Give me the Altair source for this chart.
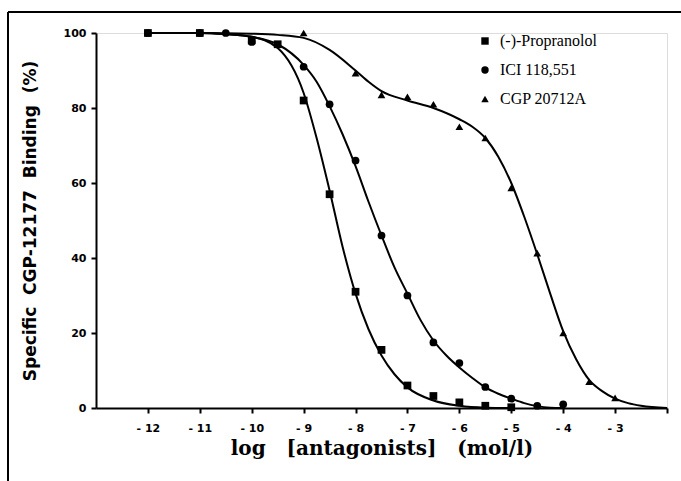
import altair as alt
import pandas as pd

series_names = ["(-)-Propranolol", "ICI 118,551", "CGP 20712A"]

# Measured points
prop_x = [-12, -11, -10, -9.5, -9, -8.5, -8, -7.5, -7, -6.5, -6, -5.5, -5]
prop_y = [100, 100, 98, 97, 82, 57, 31, 15.5, 6, 3.2, 1.5, 0.6, 0.2]

ici_x = [-12, -11, -10.5, -10, -9, -8.5, -8, -7.5, -7, -6.5, -6, -5.5, -5, -4.5, -4]
ici_y = [100, 100, 100, 97.6, 91, 81, 66, 46, 30, 17.5, 12, 5.6, 2.5, 0.6, 1]

cgp_x = [-9, -8, -7.5, -7, -6.5, -6, -5.5, -5, -4.5, -4, -3.5, -3]
cgp_y = [100, 89.3, 83.5, 83, 81, 75, 72, 58.7, 41.3, 20, 7, 2.7]

# Fitted curves
prop_cx = [-12, -11, -10.5, -10, -9.5, -9, -8.75, -8.5, -8.25, -8, -7.75, -7.5, -7.25, -7, -6.5, -6, -5.5, -5]
prop_cy = [100, 100, 99.7, 99, 96, 84, 72, 58, 43, 30.5, 21, 14, 9, 5.5, 2, 0.6, 0.1, 0]

ici_cx = [-12, -11, -10.5, -10, -9.5, -9, -8.75, -8.5, -8.25, -8, -7.75, -7.5, -7.25, -7, -6.75, -6.5, -6.25, -6, -5.75, -5.5, -5.25, -5, -4.75, -4.5, -4.25, -4]
ici_cy = [100, 100, 99.7, 99, 97, 91.5, 87, 80.5, 73, 64.5, 55, 46, 37.5, 30.5, 23.5, 18, 14, 10.8, 8, 5.5, 3.8, 2.5, 1.3, 0.5, 0.1, 0]

cgp_cx = [-12, -11, -10, -9.5, -9, -8.5, -8, -7.75, -7.5, -7, -6.5, -6, -5.75, -5.5, -5.25, -5, -4.75, -4.5, -4.25, -4, -3.75, -3.5, -3.25, -3, -2.75, -2.5, -2]
cgp_cy = [100, 100, 99.8, 99.5, 98.7, 95.5, 90, 87, 84.5, 82, 80, 77, 75, 72, 67, 60, 51, 41, 30.5, 20.5, 13, 7.5, 4.5, 2.5, 1.3, 0.6, 0]

x_ticks = [-12, -11, -10, -9, -8, -7, -6, -5, -4, -3, -2]
y_ticks = [0, 10, 20, 30, 40, 50, 60, 70, 80, 90, 100]

pts = pd.concat([
    pd.DataFrame({"series": series_names[0], "x": prop_x, "y": prop_y}),
    pd.DataFrame({"series": series_names[1], "x": ici_x, "y": ici_y}),
    pd.DataFrame({"series": series_names[2], "x": cgp_x, "y": cgp_y}),
])
curves = pd.concat([
    pd.DataFrame({"series": series_names[0], "x": prop_cx, "y": prop_cy}),
    pd.DataFrame({"series": series_names[1], "x": ici_cx, "y": ici_cy}),
    pd.DataFrame({"series": series_names[2], "x": cgp_cx, "y": cgp_cy}),
])

nb = "\u00a0"
x_title = f"log{nb*3}[antagonists]{nb*3}(mol/l)"
y_title = f"Specific{nb*2}CGP-12177{nb*2}Binding{nb*2}(%)"

x_scale = alt.Scale(domain=[-13, -2], nice=False, zero=False)
y_scale = alt.Scale(domain=[0, 100], nice=False)

x_axis = alt.Axis(
    values=x_ticks, title=x_title, grid=False,
    labelExpr=f"datum.value <= -3 ? '-{nb}' + (-datum.value) : ''",
    labelFont="DejaVu Sans", labelFontWeight="bold", labelFontSize=11,
    labelPadding=9, tickSize=5, tickWidth=2, domainWidth=2,
    domainColor="black", tickColor="black", labelColor="black",
    titleFont="DejaVu Serif", titleFontWeight="bold", titleFontSize=20,
    titleColor="black", titlePadding=5,
)
y_axis = alt.Axis(
    values=y_ticks, title=y_title, grid=False,
    labelExpr="datum.value % 20 == 0 ? datum.label : ''",
    labelFont="DejaVu Sans", labelFontWeight="bold", labelFontSize=11,
    labelPadding=5, tickSize=5, tickWidth=2, domainWidth=2,
    domainColor="black", tickColor="black", labelColor="black",
    titleFont="DejaVu Sans", titleFontWeight="bold", titleFontSize=17,
    titleColor="black", titlePadding=24,
)

lines = alt.Chart(curves).mark_line(color="black", strokeWidth=2, interpolate="monotone").encode(
    x=alt.X("x:Q", scale=x_scale, axis=x_axis),
    y=alt.Y("y:Q", scale=y_scale, axis=y_axis),
    detail="series:N",
)

points = alt.Chart(pts).mark_point(filled=True, color="black", opacity=1, size=60).encode(
    x=alt.X("x:Q", scale=x_scale),
    y=alt.Y("y:Q", scale=y_scale),
    shape=alt.Shape(
        "series:N",
        scale=alt.Scale(domain=series_names, range=["square", "circle", "triangle-up"]),
        legend=alt.Legend(
            title=None, orient="none", legendX=381, legendY=0,
            labelFont="Liberation Serif", labelFontSize=16, labelColor="black",
            labelOffset=7, rowPadding=13, symbolSize=55, symbolFillColor="black",
            symbolStrokeColor="black", symbolType="circle", padding=0,
        ),
    ),
)

frame_left = alt.Chart(pd.DataFrame({"a": [0]})).mark_rule(color="black", strokeWidth=2).encode(
    x=alt.value(-88), y=alt.value(-21), y2=alt.value(460)
)
frame_top = alt.Chart(pd.DataFrame({"a": [0]})).mark_rule(color="black", strokeWidth=2).encode(
    x=alt.value(-88), x2=alt.value(590), y=alt.value(-21)
)

chart = alt.layer(frame_left, frame_top, lines, points).properties(
    width=571, height=375,
    autosize=alt.AutoSizeParams(type="none"),
    padding={"left": 96, "top": 33, "right": 14, "bottom": 73},
).configure_view(stroke=None).configure(background="white")

chart.save("out.html", embed_options={"renderer": "svg", "actions": False})
